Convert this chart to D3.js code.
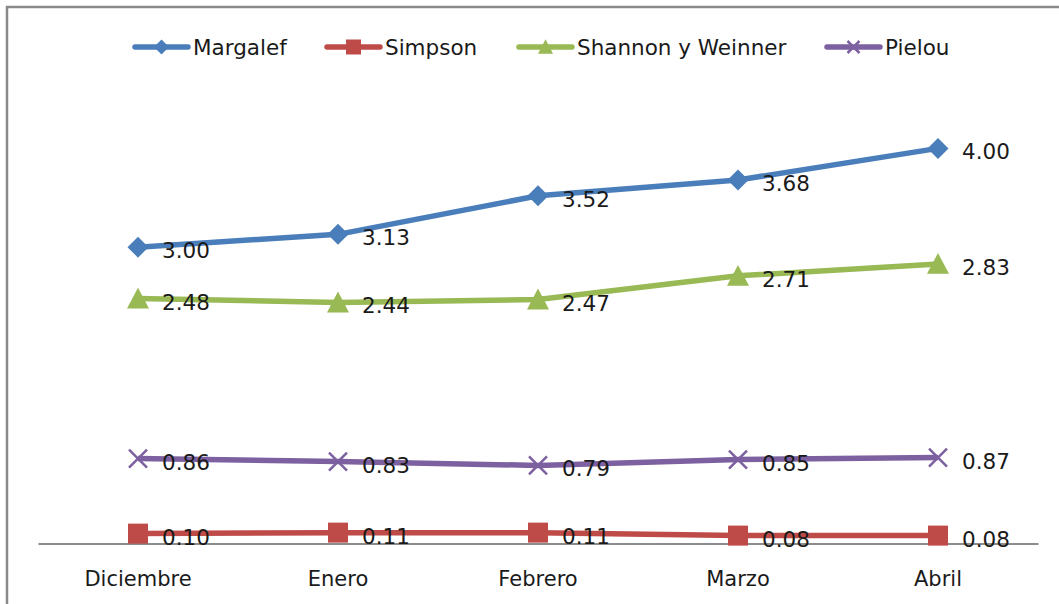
<!DOCTYPE html>
<html>
<head>
<meta charset="utf-8">
<script src="https://cdn.jsdelivr.net/npm/d3@7"></script>
<style>
  html, body { margin: 0; padding: 0; background: #fff; }
  svg { display: block; }
  text { font-family: "DejaVu Sans", sans-serif; fill: #1a1a1a; }
</style>
</head>
<body>
<svg id="chart" width="1059" height="604"></svg>
<script>
const categories = ["Diciembre", "Enero", "Febrero", "Marzo", "Abril"];
const margalef = [3.00, 3.13, 3.52, 3.68, 4.00];
const simpson = [0.10, 0.11, 0.11, 0.08, 0.08];
const shannon = [2.48, 2.44, 2.47, 2.71, 2.83];
const pielou = [0.86, 0.83, 0.79, 0.85, 0.87];
const seriesNames = ["Margalef", "Simpson", "Shannon y Weinner", "Pielou"];

const series = [
  { name: seriesNames[0], values: margalef, color: "#4A7EBB", marker: "diamond" },
  { name: seriesNames[1], values: simpson, color: "#BE4B48", marker: "square" },
  { name: seriesNames[2], values: shannon, color: "#98B954", marker: "triangle" },
  { name: seriesNames[3], values: pielou, color: "#7D60A0", marker: "x" }
];

const svg = d3.select("#chart");

// outer frame
svg.append("rect")
  .attr("x", 7).attr("y", 7).attr("width", 1200).attr("height", 800)
  .attr("fill", "none").attr("stroke", "#8a8a8a").attr("stroke-width", 2.5);

const x = d3.scaleBand().domain(categories).range([38, 1038]);
const y = d3.scaleLinear().domain([0, 4.5]).range([543.5, 99]);

// x axis
const xAxis = d3.axisBottom(x).tickSize(0).tickPadding(0);
const gx = svg.append("g").attr("transform", "translate(0,543.5)").call(xAxis);
gx.select(".domain").attr("stroke", "#8c8c8c").attr("stroke-width", 2);
gx.selectAll(".tick text")
  .attr("y", 42)
  .attr("dy", 0)
  .style("font-family", "'DejaVu Sans', sans-serif")
  .style("font-size", "21px")
  .attr("fill", "#1a1a1a");

const cx = d => x(d) + x.bandwidth() / 2;

function drawMarker(g, type, color, size) {
  const s = size, r = s / 2;
  if (type === "diamond") {
    g.append("path").attr("d", `M0,${-r}L${r},0L0,${r}L${-r},0Z`)
      .attr("fill", color);
  } else if (type === "square") {
    g.append("rect").attr("x", -r).attr("y", -r).attr("width", s).attr("height", s)
      .attr("fill", color);
  } else if (type === "triangle") {
    const h = s * 0.9;
    g.append("path").attr("d", `M0,${-h / 2 - 1}L${r},${h / 2}L${-r},${h / 2}Z`)
      .attr("fill", color);
  } else if (type === "x") {
    g.append("path").attr("d", `M${-r},${-r}L${r},${r}M${-r},${r}L${r},${-r}`)
      .attr("stroke", color).attr("stroke-width", 2.5).attr("fill", "none");
  }
}

const line = d3.line().x((d, i) => cx(categories[i])).y(d => y(d));

const plot = svg.append("g");
series.forEach(s => {
  plot.append("path").datum(s.values)
    .attr("d", line)
    .attr("fill", "none")
    .attr("stroke", s.color)
    .attr("stroke-width", 5.5)
    .attr("stroke-linejoin", "round");
  s.values.forEach((v, i) => {
    const g = plot.append("g").attr("transform", `translate(${cx(categories[i])},${y(v)})`);
    const size = s.marker === "diamond" ? 21 : (s.marker === "square" ? 20 : (s.marker === "triangle" ? 22 : 18));
    drawMarker(g, s.marker, s.color, size);
  });
});

// data labels
series.forEach(s => {
  s.values.forEach((v, i) => {
    svg.append("text")
      .attr("x", cx(categories[i]) + 24)
      .attr("y", y(v) + 11)
      .style("font-size", "21.5px")
      .text(v.toFixed(2));
  });
});

// legend
const legendItems = [
  { x: 133, s: series[0] },
  { x: 325, s: series[1] },
  { x: 517, s: series[2] },
  { x: 825, s: series[3] }
];
const ly = 47;
legendItems.forEach(it => {
  const g = svg.append("g").attr("transform", `translate(${it.x},${ly})`);
  g.append("line").attr("x1", 2).attr("x2", 55).attr("y1", 0).attr("y2", 0)
    .attr("stroke", it.s.color).attr("stroke-width", 5.5).attr("stroke-linecap", "round");
  const mg = g.append("g").attr("transform", "translate(28.5,0)");
  const size = it.s.marker === "diamond" ? 15 : (it.s.marker === "square" ? 15 : (it.s.marker === "triangle" ? 15 : 12));
  drawMarker(mg, it.s.marker, it.s.color, size);
  g.append("text").attr("x", 60).attr("y", 8)
    .style("font-size", "21.5px")
    .text(it.s.name);
});
</script>
</body>
</html>
